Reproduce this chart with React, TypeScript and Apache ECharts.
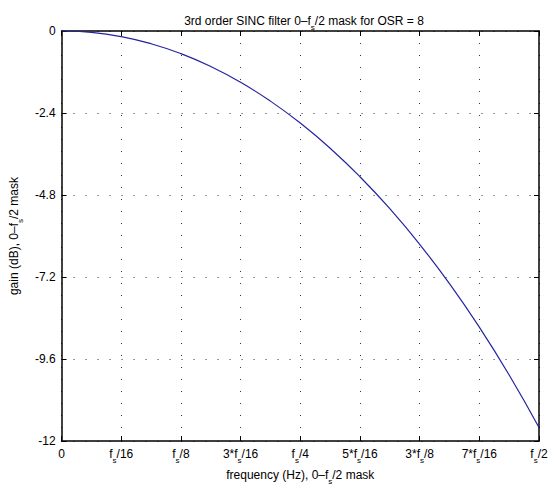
import React, { useEffect, useRef } from "react";
import * as echarts from "echarts";

// x positions in units of fs/16 (0 .. 8 = fs/2)
const freqX = [0, 0.5, 1, 1.5, 2, 2.5, 3, 3.5, 4, 4.5, 5, 5.5, 6, 6.5, 7, 7.5, 8];
// gain in dB
const gainDb = [
  0, -0.041, -0.165, -0.372, -0.663, -1.039, -1.501, -2.052, -2.694, -3.43, -4.264, -5.199,
  -6.24, -7.393, -8.665, -10.064, -11.6,
];
const xTickLabels = ["0", "f_s/16", "f_s/8", "3*f_s/16", "f_s/4", "5*f_s/16", "3*f_s/8", "7*f_s/16", "f_s/2"];
const yTicks = [0, -2.4, -4.8, -7.2, -9.6, -12];
const titleText = "3rd order SINC filter 0–f_s/2 mask for OSR = 8";
const xName = "frequency (Hz), 0–f_s/2 mask";
const yName = "gain (dB), 0–f_s/2 mask";

const FONT = "Liberation Sans";

function toRich(s: string): string {
  return s
    .split("_s")
    .map((part, i) => (i === 0 ? (part ? `{n|${part}}` : "") : `{s|s}` + (part ? `{n|${part}}` : "")))
    .join("");
}

function richStyles(size: number) {
  return {
    n: {
      fontSize: size,
      fontFamily: FONT,
      fontWeight: "normal" as const,
      color: "#000",
      lineHeight: size + 8,
      verticalAlign: "middle" as const,
    },
    s: {
      fontSize: size - 4,
      fontFamily: FONT,
      fontWeight: "normal" as const,
      color: "#000",
      lineHeight: size - 4,
      verticalAlign: "bottom" as const,
    },
  };
}

export default function App() {
  const ref = useRef<HTMLDivElement>(null);
  useEffect(() => {
    if (!ref.current) return;
    document.body.style.margin = "0";
    const chart = echarts.init(ref.current, null, { renderer: "svg" });
    const gridLine = { show: true, lineStyle: { color: "#333", width: 1, type: [1, 11] as number[] } };
    const axisLine = { show: true, onZero: false, lineStyle: { color: "#000", width: 1.5 } };
    const axisTick = { show: true, inside: true, length: 5, lineStyle: { color: "#000", width: 1 } };
    chart.setOption({
      animation: false,
      backgroundColor: "#fff",
      title: {
        text: toRich(titleText),
        left: 299,
        textAlign: "center",
        top: 6,
        textStyle: { fontWeight: "normal", rich: richStyles(12) },
      },
      grid: { left: 59, top: 31, right: 18, bottom: 37, containLabel: false },
      xAxis: [
        {
          type: "value",
          min: 0,
          max: 8,
          interval: 1,
          axisLine,
          axisTick,
          splitLine: gridLine,
          axisLabel: {
            margin: 3,
            formatter: (v: number) => toRich(xTickLabels[Math.round(v)] ?? ""),
            rich: richStyles(12),
          },
          name: toRich(xName),
          nameLocation: "middle",
          nameGap: 19,
          nameTextStyle: { rich: richStyles(12) },
        },
        {
          type: "value",
          position: "top",
          min: 0,
          max: 8,
          interval: 1,
          axisLine,
          axisTick,
          splitLine: { show: false },
          axisLabel: { show: false },
        },
      ],
      yAxis: [
        {
          type: "value",
          min: -12,
          max: 0,
          interval: 2.4,
          axisLine,
          axisTick,
          splitLine: gridLine,
          axisLabel: {
            margin: 6,
            fontFamily: FONT,
            fontSize: 12,
            color: "#000",
            formatter: (v: number) => {
              const t = yTicks.find((y) => Math.abs(y - v) < 1e-6);
              return t === undefined ? "" : String(t);
            },
          },
          name: toRich(yName),
          nameLocation: "middle",
          nameGap: 29,
          nameRotate: 90,
          nameTextStyle: { rich: richStyles(12) },
        },
        {
          type: "value",
          position: "right",
          min: -12,
          max: 0,
          interval: 2.4,
          axisLine,
          axisTick,
          splitLine: { show: false },
          axisLabel: { show: false },
        },
      ],
      series: [
        {
          type: "line",
          data: freqX.map((x, i) => [x, gainDb[i]]),
          smooth: true,
          showSymbol: false,
          lineStyle: { color: "#2424a0", width: 1.2 },
          xAxisIndex: 0,
          yAxisIndex: 0,
        },
      ],
    });
    return () => chart.dispose();
  }, []);
  return <div ref={ref} style={{ position: "absolute", left: 0, top: 0, width: 557, height: 490 }} />;
}
